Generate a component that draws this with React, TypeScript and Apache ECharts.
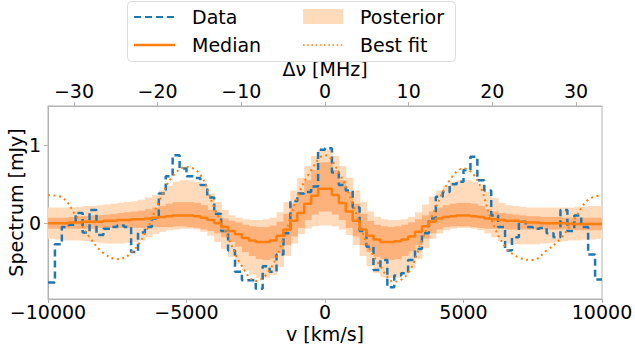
import React, { useEffect, useRef } from "react";
import * as echarts from "echarts";

// channel grid (km/s)
const CHANNEL_START = -9875;
const CHANNEL_WIDTH = 250;
const X_MIN = -10000;
const X_MAX = 10000;
const Y_MIN = -0.97;
const Y_MAX = 1.5;
const DNU_MAX = 33.1; // MHz at v = 10000 km/s

const topTicks = [-30, -20, -10, 0, 10, 20, 30];
const yTicks = [0, 1];

// observed spectrum (mJy), one value per channel
const dataFlux = [
  -0.76, -0.27, -0.05, -0.02, 0.13, -0.12, 0.17, -0.15, -0.07, -0.05,
  -0.03, -0.05, -0.37, -0.12, -0.05, 0.06, 0.38, 0.6, 0.87, 0.7,
  0.6, 0.58, 0.49, 0.33, 0.12, -0.1, -0.35, -0.62, -0.73, -0.73,
  -0.84, -0.55, -0.62, -0.4, -0.13, 0.28, 0.38, 0.4, 0.47, 0.94,
  0.96, 0.65, 0.49, 0.42, 0.2, -0.1, -0.3, -0.6, -0.47, -0.82,
  -0.67, -0.64, -0.47, -0.33, -0.13, 0.06, 0.34, 0.4, 0.5, 0.53,
  0.68, 0.85, 0.55, 0.42, 0.1, -0.05, -0.35, -0.18, 0.02, -0.05,
  -0.07, -0.06, -0.13, -0.18, 0.17, -0.1, 0.1, -0.05, -0.4, -0.72,
];

// posterior median
const median = [
  0.0, 0.0, 0.0, 0.01, 0.01, 0.02, 0.02, 0.02, 0.03, 0.03,
  0.04, 0.04, 0.05, 0.05, 0.06, 0.07, 0.08, 0.09, 0.1, 0.1,
  0.1, 0.09, 0.07, 0.04, 0.0, -0.05, -0.1, -0.14, -0.19, -0.22,
  -0.24, -0.24, -0.22, -0.16, -0.08, 0.03, 0.13, 0.25, 0.35, 0.44,
  0.44, 0.36, 0.26, 0.15, 0.03, -0.08, -0.16, -0.21, -0.24, -0.24,
  -0.23, -0.21, -0.17, -0.11, -0.04, 0.02, 0.06, 0.08, 0.09, 0.1,
  0.1, 0.09, 0.08, 0.06, 0.05, 0.04, 0.03, 0.03, 0.02, 0.01,
  0.01, 0.0, 0.0, 0.0, 0.0, -0.01, -0.01, -0.01, -0.01, -0.01,
];

// 68% band
const hi68 = [
  0.07, 0.07, 0.07, 0.08, 0.09, 0.09, 0.1, 0.1, 0.11, 0.12,
  0.13, 0.14, 0.15, 0.16, 0.18, 0.2, 0.22, 0.25, 0.27, 0.27,
  0.27, 0.26, 0.23, 0.17, 0.11, 0.06, 0.03, 0.01, -0.02, -0.04,
  -0.05, -0.05, -0.03, 0.02, 0.12, 0.25, 0.4, 0.55, 0.68, 0.78,
  0.78, 0.68, 0.55, 0.4, 0.25, 0.12, 0.03, -0.02, -0.04, -0.05,
  -0.04, -0.02, 0.01, 0.05, 0.1, 0.15, 0.2, 0.23, 0.25, 0.26,
  0.26, 0.25, 0.22, 0.18, 0.15, 0.13, 0.12, 0.11, 0.1, 0.09,
  0.09, 0.08, 0.08, 0.08, 0.07, 0.07, 0.07, 0.07, 0.07, 0.07,
];
const lo68 = [
  -0.07, -0.07, -0.07, -0.07, -0.07, -0.07, -0.07, -0.06, -0.06, -0.06,
  -0.06, -0.06, -0.06, -0.06, -0.05, -0.05, -0.05, -0.05, -0.04, -0.04,
  -0.05, -0.06, -0.08, -0.1, -0.13, -0.18, -0.24, -0.3, -0.37, -0.42,
  -0.46, -0.47, -0.45, -0.38, -0.28, -0.17, -0.06, 0.04, 0.11, 0.15,
  0.15, 0.11, 0.04, -0.06, -0.17, -0.28, -0.37, -0.43, -0.46, -0.47,
  -0.46, -0.42, -0.36, -0.28, -0.2, -0.13, -0.08, -0.05, -0.04, -0.04,
  -0.04, -0.05, -0.06, -0.07, -0.07, -0.07, -0.08, -0.08, -0.08, -0.08,
  -0.08, -0.08, -0.08, -0.08, -0.08, -0.08, -0.09, -0.09, -0.09, -0.09,
];

// 95% band
const hi95 = [
  0.2, 0.2, 0.2, 0.2, 0.21, 0.22, 0.22, 0.23, 0.24, 0.25,
  0.26, 0.27, 0.28, 0.3, 0.33, 0.36, 0.42, 0.48, 0.53, 0.55,
  0.55, 0.53, 0.48, 0.38, 0.27, 0.17, 0.1, 0.07, 0.05, 0.04,
  0.04, 0.05, 0.07, 0.14, 0.27, 0.42, 0.58, 0.73, 0.86, 0.94,
  0.94, 0.86, 0.73, 0.58, 0.42, 0.27, 0.15, 0.08, 0.05, 0.04,
  0.04, 0.05, 0.08, 0.14, 0.24, 0.34, 0.42, 0.48, 0.53, 0.55,
  0.55, 0.53, 0.48, 0.4, 0.32, 0.26, 0.23, 0.22, 0.21, 0.2,
  0.2, 0.2, 0.2, 0.2, 0.2, 0.2, 0.21, 0.21, 0.22, 0.22,
];
const lo95 = [
  -0.2, -0.21, -0.22, -0.22, -0.22, -0.23, -0.24, -0.25, -0.26, -0.26,
  -0.26, -0.25, -0.24, -0.22, -0.18, -0.14, -0.11, -0.09, -0.08, -0.07,
  -0.07, -0.08, -0.11, -0.16, -0.24, -0.33, -0.43, -0.52, -0.6, -0.66,
  -0.7, -0.7, -0.66, -0.56, -0.42, -0.26, -0.14, -0.07, -0.04, -0.03,
  -0.03, -0.04, -0.08, -0.15, -0.28, -0.42, -0.55, -0.64, -0.69, -0.7,
  -0.7, -0.66, -0.58, -0.46, -0.32, -0.2, -0.13, -0.09, -0.07, -0.06,
  -0.06, -0.07, -0.09, -0.13, -0.18, -0.23, -0.26, -0.27, -0.27, -0.27,
  -0.27, -0.26, -0.25, -0.24, -0.23, -0.22, -0.22, -0.21, -0.21, -0.2,
];

// best-fit model, sampled every 500 km/s
const bestFitVel = [
  -10000, -9500, -9000, -8500, -8000, -7500, -7000, -6500, -6000, -5500,
  -5000, -4500, -4000, -3500, -3000, -2500, -2000, -1500, -1000, -500,
  0, 500, 1000, 1500, 2000, 2500, 3000, 3500, 4000, 4500,
  5000, 5500, 6000, 6500, 7000, 7500, 8000, 8500, 9000, 9500, 10000,
];
const bestFit = [
  0.36, 0.33, 0.1, -0.18, -0.38, -0.46, -0.38, -0.13, 0.27, 0.6,
  0.72, 0.62, 0.2, -0.18, -0.55, -0.74, -0.6, -0.2, 0.33, 0.68,
  0.87, 0.65, 0.25, -0.25, -0.55, -0.75, -0.64, -0.22, 0.2, 0.55,
  0.7, 0.55, 0.05, -0.3, -0.44, -0.47, -0.35, -0.2, 0.05, 0.3, 0.36,
];

const BLUE = "#1f77b4";
const ORANGE = "#ff7f0e";
const LIGHT = "#ffdabb";
const DARK = "#fdb27c";
const FONT = "DejaVu Sans";
const SPINE = "#b3b3b3";

export default function App() {
  const ref = useRef<HTMLDivElement>(null);

  useEffect(() => {
    if (!ref.current) return;
    const chart = echarts.init(ref.current, undefined, { renderer: "svg" });
    const vel = dataFlux.map((_, i) => CHANNEL_START + i * CHANNEL_WIDTH);
    const half = CHANNEL_WIDTH / 2;

    const stepData = (vals: number[]) => {
      const pts: number[][] = vel.map((v, i) => [v, vals[i]]);
      pts.unshift([X_MIN, vals[0]]);
      pts.push([X_MAX, vals[vals.length - 1]]);
      return pts;
    };

    const bandSeries = (lo: number[], hi: number[], color: string, z: number) => ({
      type: "custom",
      xAxisIndex: 0,
      yAxisIndex: 0,
      clip: true,
      silent: true,
      z,
      encode: { x: 0, y: [1, 2] },
      data: vel.map((v, i) => [v, lo[i], hi[i]]),
      renderItem: (params: any, api: any) => {
        const v = api.value(0);
        const p1 = api.coord([v - half, api.value(2)]);
        const p2 = api.coord([v + half, api.value(1)]);
        return {
          type: "rect",
          shape: { x: p1[0], y: p1[1], width: p2[0] - p1[0] + 0.6, height: p2[1] - p1[1] },
          style: { fill: color },
        };
      },
    });

    const axisText = { fontFamily: FONT, fontSize: 19, color: "#000", lineHeight: 19 };
    const minusFmt = (v: number) => (v < 0 ? "\u2212" + Math.abs(v) : String(v));

    const lx1 = 134, lx2 = 175, rx1 = 303, rx2 = 343, row1 = 17, row2 = 45;
    const legendText = (text: string, x: number, y: number) => ({
      type: "text",
      x,
      y,
      z: 101,
      style: { text, fontFamily: FONT, fontSize: 19, fill: "#000", verticalAlign: "middle" },
    });

    chart.setOption({
      animation: false,
      textStyle: { fontFamily: FONT },
      grid: {
        left: 48,
        right: 33,
        top: 106,
        bottom: 51,
        containLabel: false,
        outerBoundsMode: "none",
        show: true,
        borderColor: SPINE,
        borderWidth: 1,
        backgroundColor: "transparent",
      },
      xAxis: [
        {
          type: "value",
          position: "bottom",
          min: X_MIN,
          max: X_MAX,
          interval: 5000,
          splitLine: { show: false },
          axisLine: { show: true, onZero: false, lineStyle: { color: SPINE } },
          axisTick: { show: true, length: 4, lineStyle: { color: SPINE } },
          axisLabel: { ...axisText, margin: 3, formatter: minusFmt },
          name: "v [km/s]",
          nameLocation: "middle",
          nameGap: 25,
          nameMoveOverlap: false,
          nameTextStyle: axisText,
        },
        {
          type: "value",
          position: "top",
          min: -DNU_MAX,
          max: DNU_MAX,
          splitLine: { show: false },
          axisLine: { show: true, onZero: false, lineStyle: { color: SPINE } },
          axisTick: { show: true, length: 4, lineStyle: { color: SPINE }, customValues: topTicks },
          axisLabel: { ...axisText, margin: 6, customValues: topTicks, formatter: minusFmt },
          name: "\u0394\u03bd [MHz]",
          nameLocation: "middle",
          nameGap: 28,
          nameMoveOverlap: false,
          nameTextStyle: axisText,
        },
      ],
      yAxis: {
        type: "value",
        min: Y_MIN,
        max: Y_MAX,
        splitLine: { show: false },
        axisLine: { show: true, onZero: false, lineStyle: { color: SPINE } },
        axisTick: { show: true, length: 4, lineStyle: { color: SPINE }, customValues: yTicks },
        axisLabel: { ...axisText, margin: 7, customValues: yTicks },
        name: "Spectrum [mJy]",
        nameLocation: "middle",
        nameGap: 23,
        nameMoveOverlap: false,
        nameTextStyle: axisText,
      },
      series: [
        bandSeries(lo95, hi95, LIGHT, 1),
        bandSeries(lo68, hi68, DARK, 2),
        {
          type: "line",
          name: "Data",
          data: stepData(dataFlux),
          step: "middle",
          showSymbol: false,
          symbol: "none",
          z: 3,
          lineStyle: { color: BLUE, width: 2.5, type: [7, 4] },
        },
        {
          type: "line",
          name: "Median",
          data: stepData(median),
          step: "middle",
          showSymbol: false,
          symbol: "none",
          z: 4,
          lineStyle: { color: ORANGE, width: 2.5 },
        },
        {
          type: "line",
          name: "Best fit",
          data: bestFitVel.map((v, i) => [v, bestFit[i]]),
          smooth: 0.4,
          showSymbol: false,
          symbol: "none",
          z: 5,
          lineStyle: { color: ORANGE, width: 2, type: [2, 3.5] },
        },
      ],
      graphic: [
        {
          type: "rect",
          shape: { x: 127.5, y: 1.5, width: 328, height: 60, r: 4 },
          style: { fill: "rgba(255,255,255,0.85)", stroke: "#dcdcdc", lineWidth: 1 },
          z: 100,
        },
        {
          type: "line",
          shape: { x1: lx1, y1: row1, x2: lx2, y2: row1 },
          style: { stroke: BLUE, lineWidth: 2, lineDash: [7, 4] },
          z: 101,
        },
        {
          type: "line",
          shape: { x1: lx1, y1: row2, x2: lx2, y2: row2 },
          style: { stroke: ORANGE, lineWidth: 2.5 },
          z: 101,
        },
        {
          type: "rect",
          shape: { x: rx1, y: row1 - 8, width: rx2 - rx1, height: 15 },
          style: { fill: LIGHT },
          z: 101,
        },
        {
          type: "line",
          shape: { x1: rx1, y1: row2, x2: rx2, y2: row2 },
          style: { stroke: ORANGE, lineWidth: 1.6, lineDash: [1.6, 2.6] },
          z: 101,
        },
        legendText("Data", 192, row1),
        legendText("Median", 192, row2),
        legendText("Posterior", 360, row1),
        legendText("Best fit", 360, row2),
      ],
    });

    return () => chart.dispose();
  }, []);

  return (
    <div
      ref={ref}
      style={{ position: "absolute", left: 0, top: 0, width: 635, height: 350, background: "#fff" }}
    />
  );
}
